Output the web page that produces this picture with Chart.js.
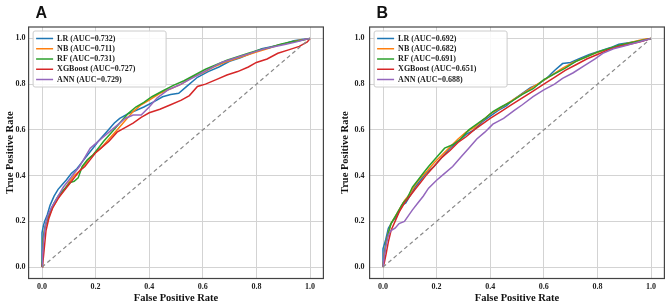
<!DOCTYPE html>
<html>
<head>
<meta charset="utf-8">
<script src="https://cdn.jsdelivr.net/npm/chart.js@4.4.0/dist/chart.umd.min.js"></script>
<style>
  html, body { margin: 0; padding: 0; background: #fff; }
  #wrap { position: relative; width: 669px; height: 307px; overflow: hidden; }
  .panel { position: absolute; top: 0; width: 334px; height: 307px; }
</style>
</head>
<body>
<div id="wrap">
  <div class="panel" style="left:0"><canvas id="chartA" width="334" height="307"></canvas></div>
  <div class="panel" style="left:335px"><canvas id="chartB" width="334" height="307"></canvas></div>
</div>
<script>
// tick labels and legend names
const tickValues = [0, 0.2, 0.4, 0.6, 0.8, 1.0];
const modelNames = ["LR", "NB", "RF", "XGBoost", "ANN"];
const aucA = ["0.732", "0.711", "0.731", "0.727", "0.729"];
const aucB = ["0.692", "0.682", "0.691", "0.651", "0.688"];

// Panel A - ROC points
const lrA_fpr = [0, 0, 0.005, 0.01, 0.02, 0.03, 0.045, 0.06, 0.075, 0.09, 0.11, 0.13, 0.15, 0.17, 0.19, 0.21, 0.24, 0.27, 0.29, 0.32, 0.35, 0.38, 0.42, 0.45, 0.48, 0.51, 0.54, 0.58, 0.62, 0.66, 0.70, 0.74, 0.78, 0.82, 0.86, 0.90, 0.94, 0.97, 1.0];
const lrA_tpr = [0, 0.15, 0.18, 0.2, 0.23, 0.27, 0.31, 0.34, 0.36, 0.38, 0.41, 0.43, 0.46, 0.49, 0.52, 0.55, 0.59, 0.63, 0.65, 0.67, 0.685, 0.70, 0.725, 0.745, 0.755, 0.76, 0.79, 0.83, 0.855, 0.875, 0.9, 0.915, 0.935, 0.955, 0.965, 0.975, 0.99, 0.995, 1.0];
const nbA_fpr = [0, 0.003, 0.008, 0.015, 0.025, 0.04, 0.055, 0.07, 0.085, 0.1, 0.12, 0.14, 0.16, 0.18, 0.2, 0.22, 0.25, 0.28, 0.31, 0.34, 0.37, 0.40, 0.44, 0.48, 0.52, 0.56, 0.60, 0.64, 0.68, 0.72, 0.76, 0.80, 0.84, 0.88, 0.92, 0.95, 0.98, 1.0];
const nbA_tpr = [0, 0.1, 0.15, 0.19, 0.22, 0.26, 0.29, 0.32, 0.34, 0.37, 0.40, 0.42, 0.45, 0.48, 0.5, 0.52, 0.56, 0.6, 0.64, 0.68, 0.71, 0.73, 0.76, 0.78, 0.80, 0.83, 0.85, 0.875, 0.895, 0.91, 0.925, 0.94, 0.955, 0.97, 0.98, 0.99, 0.995, 1.0];
const rfA_fpr = [0, 0.004, 0.01, 0.02, 0.03, 0.045, 0.06, 0.075, 0.09, 0.105, 0.12, 0.135, 0.15, 0.17, 0.19, 0.21, 0.23, 0.26, 0.29, 0.32, 0.35, 0.38, 0.41, 0.45, 0.49, 0.53, 0.57, 0.61, 0.65, 0.69, 0.73, 0.77, 0.81, 0.85, 0.89, 0.93, 0.96, 1.0];
const rfA_tpr = [0, 0.12, 0.17, 0.21, 0.24, 0.28, 0.31, 0.33, 0.35, 0.37, 0.375, 0.39, 0.44, 0.47, 0.49, 0.52, 0.55, 0.59, 0.63, 0.67, 0.70, 0.72, 0.745, 0.77, 0.795, 0.815, 0.84, 0.865, 0.885, 0.905, 0.92, 0.935, 0.95, 0.96, 0.975, 0.985, 0.99, 1.0];
const xgbA_fpr = [0, 0.005, 0.01, 0.015, 0.025, 0.04, 0.06, 0.08, 0.1, 0.12, 0.14, 0.16, 0.18, 0.2, 0.22, 0.25, 0.28, 0.31, 0.34, 0.37, 0.40, 0.44, 0.48, 0.52, 0.55, 0.58, 0.61, 0.65, 0.69, 0.73, 0.77, 0.80, 0.84, 0.88, 0.92, 0.96, 0.99, 1.0];
const xgbA_tpr = [0, 0.04, 0.1, 0.16, 0.21, 0.26, 0.3, 0.33, 0.36, 0.39, 0.42, 0.44, 0.47, 0.5, 0.52, 0.55, 0.59, 0.61, 0.63, 0.655, 0.675, 0.69, 0.71, 0.73, 0.75, 0.79, 0.8, 0.82, 0.84, 0.855, 0.875, 0.895, 0.91, 0.935, 0.95, 0.965, 0.985, 1.0];
const annA_fpr = [0, 0.002, 0.006, 0.012, 0.02, 0.035, 0.05, 0.065, 0.08, 0.1, 0.12, 0.14, 0.16, 0.18, 0.2, 0.22, 0.25, 0.28, 0.31, 0.34, 0.37, 0.40, 0.43, 0.47, 0.51, 0.55, 0.59, 0.63, 0.67, 0.71, 0.75, 0.79, 0.83, 0.87, 0.91, 0.95, 0.98, 1.0];
const annA_tpr = [0, 0.05, 0.12, 0.18, 0.22, 0.26, 0.29, 0.32, 0.35, 0.38, 0.41, 0.44, 0.48, 0.52, 0.54, 0.56, 0.59, 0.62, 0.65, 0.665, 0.665, 0.70, 0.74, 0.775, 0.795, 0.82, 0.845, 0.87, 0.895, 0.91, 0.925, 0.94, 0.955, 0.965, 0.975, 0.985, 0.995, 1.0];

// Panel B
const lrB_fpr = [0, 0, 0.01, 0.02, 0.035, 0.05, 0.07, 0.085, 0.1, 0.12, 0.14, 0.16, 0.19, 0.22, 0.25, 0.28, 0.31, 0.34, 0.37, 0.40, 0.43, 0.46, 0.49, 0.52, 0.55, 0.58, 0.61, 0.64, 0.67, 0.70, 0.73, 0.77, 0.81, 0.85, 0.88, 0.91, 0.94, 0.97, 1.0];
const lrB_tpr = [0, 0.08, 0.12, 0.17, 0.2, 0.22, 0.27, 0.28, 0.31, 0.35, 0.38, 0.41, 0.44, 0.48, 0.52, 0.55, 0.58, 0.6, 0.635, 0.66, 0.685, 0.705, 0.735, 0.76, 0.785, 0.8, 0.825, 0.86, 0.89, 0.895, 0.91, 0.93, 0.945, 0.96, 0.975, 0.98, 0.985, 0.99, 1.0];
const nbB_fpr = [0, 0.005, 0.012, 0.02, 0.03, 0.045, 0.06, 0.08, 0.1, 0.12, 0.14, 0.165, 0.19, 0.22, 0.25, 0.28, 0.31, 0.34, 0.37, 0.40, 0.43, 0.47, 0.51, 0.55, 0.59, 0.63, 0.67, 0.71, 0.75, 0.79, 0.83, 0.87, 0.91, 0.95, 0.98, 1.0];
const nbB_tpr = [0, 0.06, 0.11, 0.15, 0.19, 0.22, 0.25, 0.29, 0.32, 0.36, 0.39, 0.42, 0.455, 0.49, 0.525, 0.56, 0.59, 0.61, 0.64, 0.67, 0.69, 0.72, 0.75, 0.78, 0.81, 0.84, 0.87, 0.895, 0.915, 0.935, 0.95, 0.965, 0.978, 0.99, 0.998, 1.0];
const rfB_fpr = [0, 0.004, 0.01, 0.02, 0.03, 0.045, 0.06, 0.075, 0.09, 0.11, 0.13, 0.15, 0.17, 0.2, 0.23, 0.26, 0.29, 0.32, 0.35, 0.38, 0.41, 0.44, 0.48, 0.52, 0.56, 0.6, 0.64, 0.68, 0.72, 0.76, 0.8, 0.84, 0.88, 0.92, 0.96, 1.0];
const rfB_tpr = [0, 0.04, 0.1, 0.15, 0.19, 0.22, 0.25, 0.28, 0.3, 0.35, 0.38, 0.41, 0.44, 0.48, 0.52, 0.535, 0.56, 0.6, 0.625, 0.65, 0.68, 0.70, 0.725, 0.755, 0.78, 0.82, 0.845, 0.87, 0.9, 0.92, 0.94, 0.955, 0.97, 0.98, 0.99, 1.0];
const xgbB_fpr = [0, 0.005, 0.012, 0.02, 0.03, 0.045, 0.06, 0.08, 0.1, 0.12, 0.14, 0.16, 0.19, 0.22, 0.25, 0.28, 0.31, 0.34, 0.37, 0.40, 0.44, 0.48, 0.52, 0.56, 0.6, 0.64, 0.68, 0.72, 0.76, 0.8, 0.84, 0.88, 0.92, 0.96, 1.0];
const xgbB_tpr = [0, 0.02, 0.06, 0.11, 0.16, 0.2, 0.24, 0.28, 0.31, 0.34, 0.37, 0.4, 0.44, 0.48, 0.51, 0.545, 0.57, 0.6, 0.625, 0.65, 0.68, 0.71, 0.74, 0.77, 0.8, 0.83, 0.86, 0.885, 0.91, 0.93, 0.95, 0.965, 0.975, 0.985, 1.0];
const annB_fpr = [0, 0.005, 0.012, 0.02, 0.03, 0.045, 0.06, 0.08, 0.095, 0.11, 0.13, 0.15, 0.17, 0.2, 0.23, 0.26, 0.29, 0.32, 0.35, 0.38, 0.41, 0.45, 0.49, 0.52, 0.56, 0.6, 0.64, 0.67, 0.71, 0.75, 0.79, 0.82, 0.86, 0.9, 0.94, 0.97, 1.0];
const annB_tpr = [0, 0.05, 0.1, 0.14, 0.16, 0.17, 0.19, 0.2, 0.225, 0.25, 0.28, 0.31, 0.345, 0.38, 0.41, 0.44, 0.48, 0.52, 0.56, 0.59, 0.625, 0.65, 0.685, 0.71, 0.745, 0.775, 0.8, 0.825, 0.85, 0.88, 0.91, 0.935, 0.955, 0.967, 0.98, 0.99, 1.0];

const chanceLine = [0, 1];

const modelColors = ["#1f77b4", "#ff7f0e", "#2ca02c", "#d62728", "#9467bd"];
const serif = "'Liberation Serif', 'Times New Roman', serif";

// frame around the plot area (matplotlib spines)
const framePlugin = {
  id: "frame",
  afterDatasetsDraw(chart) {
    const { ctx, chartArea: a } = chart;
    ctx.save();
    ctx.strokeStyle = "#444";
    ctx.lineWidth = 1.2;
    ctx.strokeRect(a.left, a.top, a.right - a.left, a.bottom - a.top);
    ctx.restore();
  },
};

// legend box inside the upper left corner + panel letter
const insideLegend = {
  id: "insideLegend",
  afterDraw(chart, args, opts) {
    const { ctx, chartArea: a } = chart;
    const items = chart.data.datasets.filter((d) => !d.chance);
    const x0 = a.left + 4.5;
    const y0 = a.top + 4;
    ctx.save();
    ctx.beginPath();
    ctx.roundRect(x0, y0, 133, 56, 2);
    ctx.fillStyle = "rgba(255,255,255,0.85)";
    ctx.fill();
    ctx.strokeStyle = "#cccccc";
    ctx.lineWidth = 1;
    ctx.stroke();
    ctx.font = "bold 8px " + serif;
    ctx.textBaseline = "middle";
    items.forEach((d, i) => {
      const yy = y0 + 7.5 + i * 10.25;
      ctx.beginPath();
      ctx.moveTo(x0 + 3, yy);
      ctx.lineTo(x0 + 20, yy);
      ctx.strokeStyle = d.borderColor;
      ctx.lineWidth = 1.5;
      ctx.stroke();
      ctx.fillStyle = "#222";
      ctx.fillText(d.label, x0 + 24, yy);
    });
    // panel letter
    ctx.font = "bold 16px 'Liberation Sans', Arial, sans-serif";
    ctx.textBaseline = "alphabetic";
    ctx.fillStyle = "#111";
    ctx.fillText(opts.letter, opts.letterX, 18);
    ctx.restore();
  },
};

function toPoints(xs, ys) {
  return xs.map((x, i) => ({ x: x, y: ys[i] }));
}

function makeRoc(canvasId, letter, curves, aucs, yWidth, rightPad, yTickPad) {
  const datasets = curves.map((c, i) => ({
    label: `${modelNames[i]} (AUC=${aucs[i]})`,
    data: toPoints(c[0], c[1]),
    borderColor: modelColors[i],
    borderWidth: 1.5,
    pointRadius: 0,
    showLine: true,
    tension: 0,
    order: 5 - i,
  }));
  datasets.push({
    label: "chance",
    chance: true,
    data: toPoints(chanceLine, chanceLine),
    borderColor: "#888",
    borderWidth: 1.2,
    borderDash: [4, 3],
    pointRadius: 0,
    showLine: true,
    order: 0,
  });

  const axisTicks = (scale) => {
    scale.ticks = tickValues.map((v) => ({ value: v }));
  };

  return new Chart(document.getElementById(canvasId), {
    type: "scatter",
    data: { datasets: datasets },
    options: {
      responsive: false,
      animation: false,
      devicePixelRatio: 1,
      layout: { padding: { top: 27, right: rightPad, left: 0, bottom: 0 } },
      plugins: {
        legend: { display: false },
        tooltip: { enabled: false },
        insideLegend: { letter: letter, letterX: yWidth + 7 },
      },
      scales: {
        x: {
          type: "linear",
          min: -0.05,
          max: 1.05,
          afterBuildTicks: axisTicks,
          afterFit: (scale) => { scale.height = 28.5; },
          grid: { color: "#d3d3d3", lineWidth: 1, drawTicks: false },
          border: { display: false },
          ticks: {
            padding: 4,
            color: "#222",
            font: { family: serif, weight: "bold", size: 8 },
            callback: (v) => Number(v).toFixed(1),
          },
          title: {
            display: true,
            text: "False Positive Rate",
            color: "#111",
            font: { family: serif, weight: "bold", size: 10.5 },
            padding: { top: 0, bottom: 2.5 },
          },
        },
        y: {
          type: "linear",
          min: -0.05,
          max: 1.05,
          afterBuildTicks: axisTicks,
          afterFit: (scale) => { scale.width = yWidth; },
          grid: { color: "#d3d3d3", lineWidth: 1, drawTicks: false },
          border: { display: false },
          ticks: {
            padding: yTickPad,
            color: "#222",
            font: { family: serif, weight: "bold", size: 8 },
            callback: (v) => Number(v).toFixed(1),
          },
          title: {
            display: true,
            text: "True Positive Rate",
            color: "#111",
            font: { family: serif, weight: "bold", size: 10.5 },
            padding: { top: 4, bottom: 0 },
          },
        },
      },
    },
    plugins: [framePlugin, insideLegend],
  });
}

document.addEventListener("DOMContentLoaded", () => {
  makeRoc("chartA", "A",
    [[lrA_fpr, lrA_tpr], [nbA_fpr, nbA_tpr], [rfA_fpr, rfA_tpr], [xgbA_fpr, xgbA_tpr], [annA_fpr, annA_tpr]],
    aucA, 28.6, 10.6, 3);
  makeRoc("chartB", "B",
    [[lrB_fpr, lrB_tpr], [nbB_fpr, nbB_tpr], [rfB_fpr, rfB_tpr], [xgbB_fpr, xgbB_tpr], [annB_fpr, annB_tpr]],
    aucB, 34.6, 4.6, 5);
});
</script>
</body>
</html>
